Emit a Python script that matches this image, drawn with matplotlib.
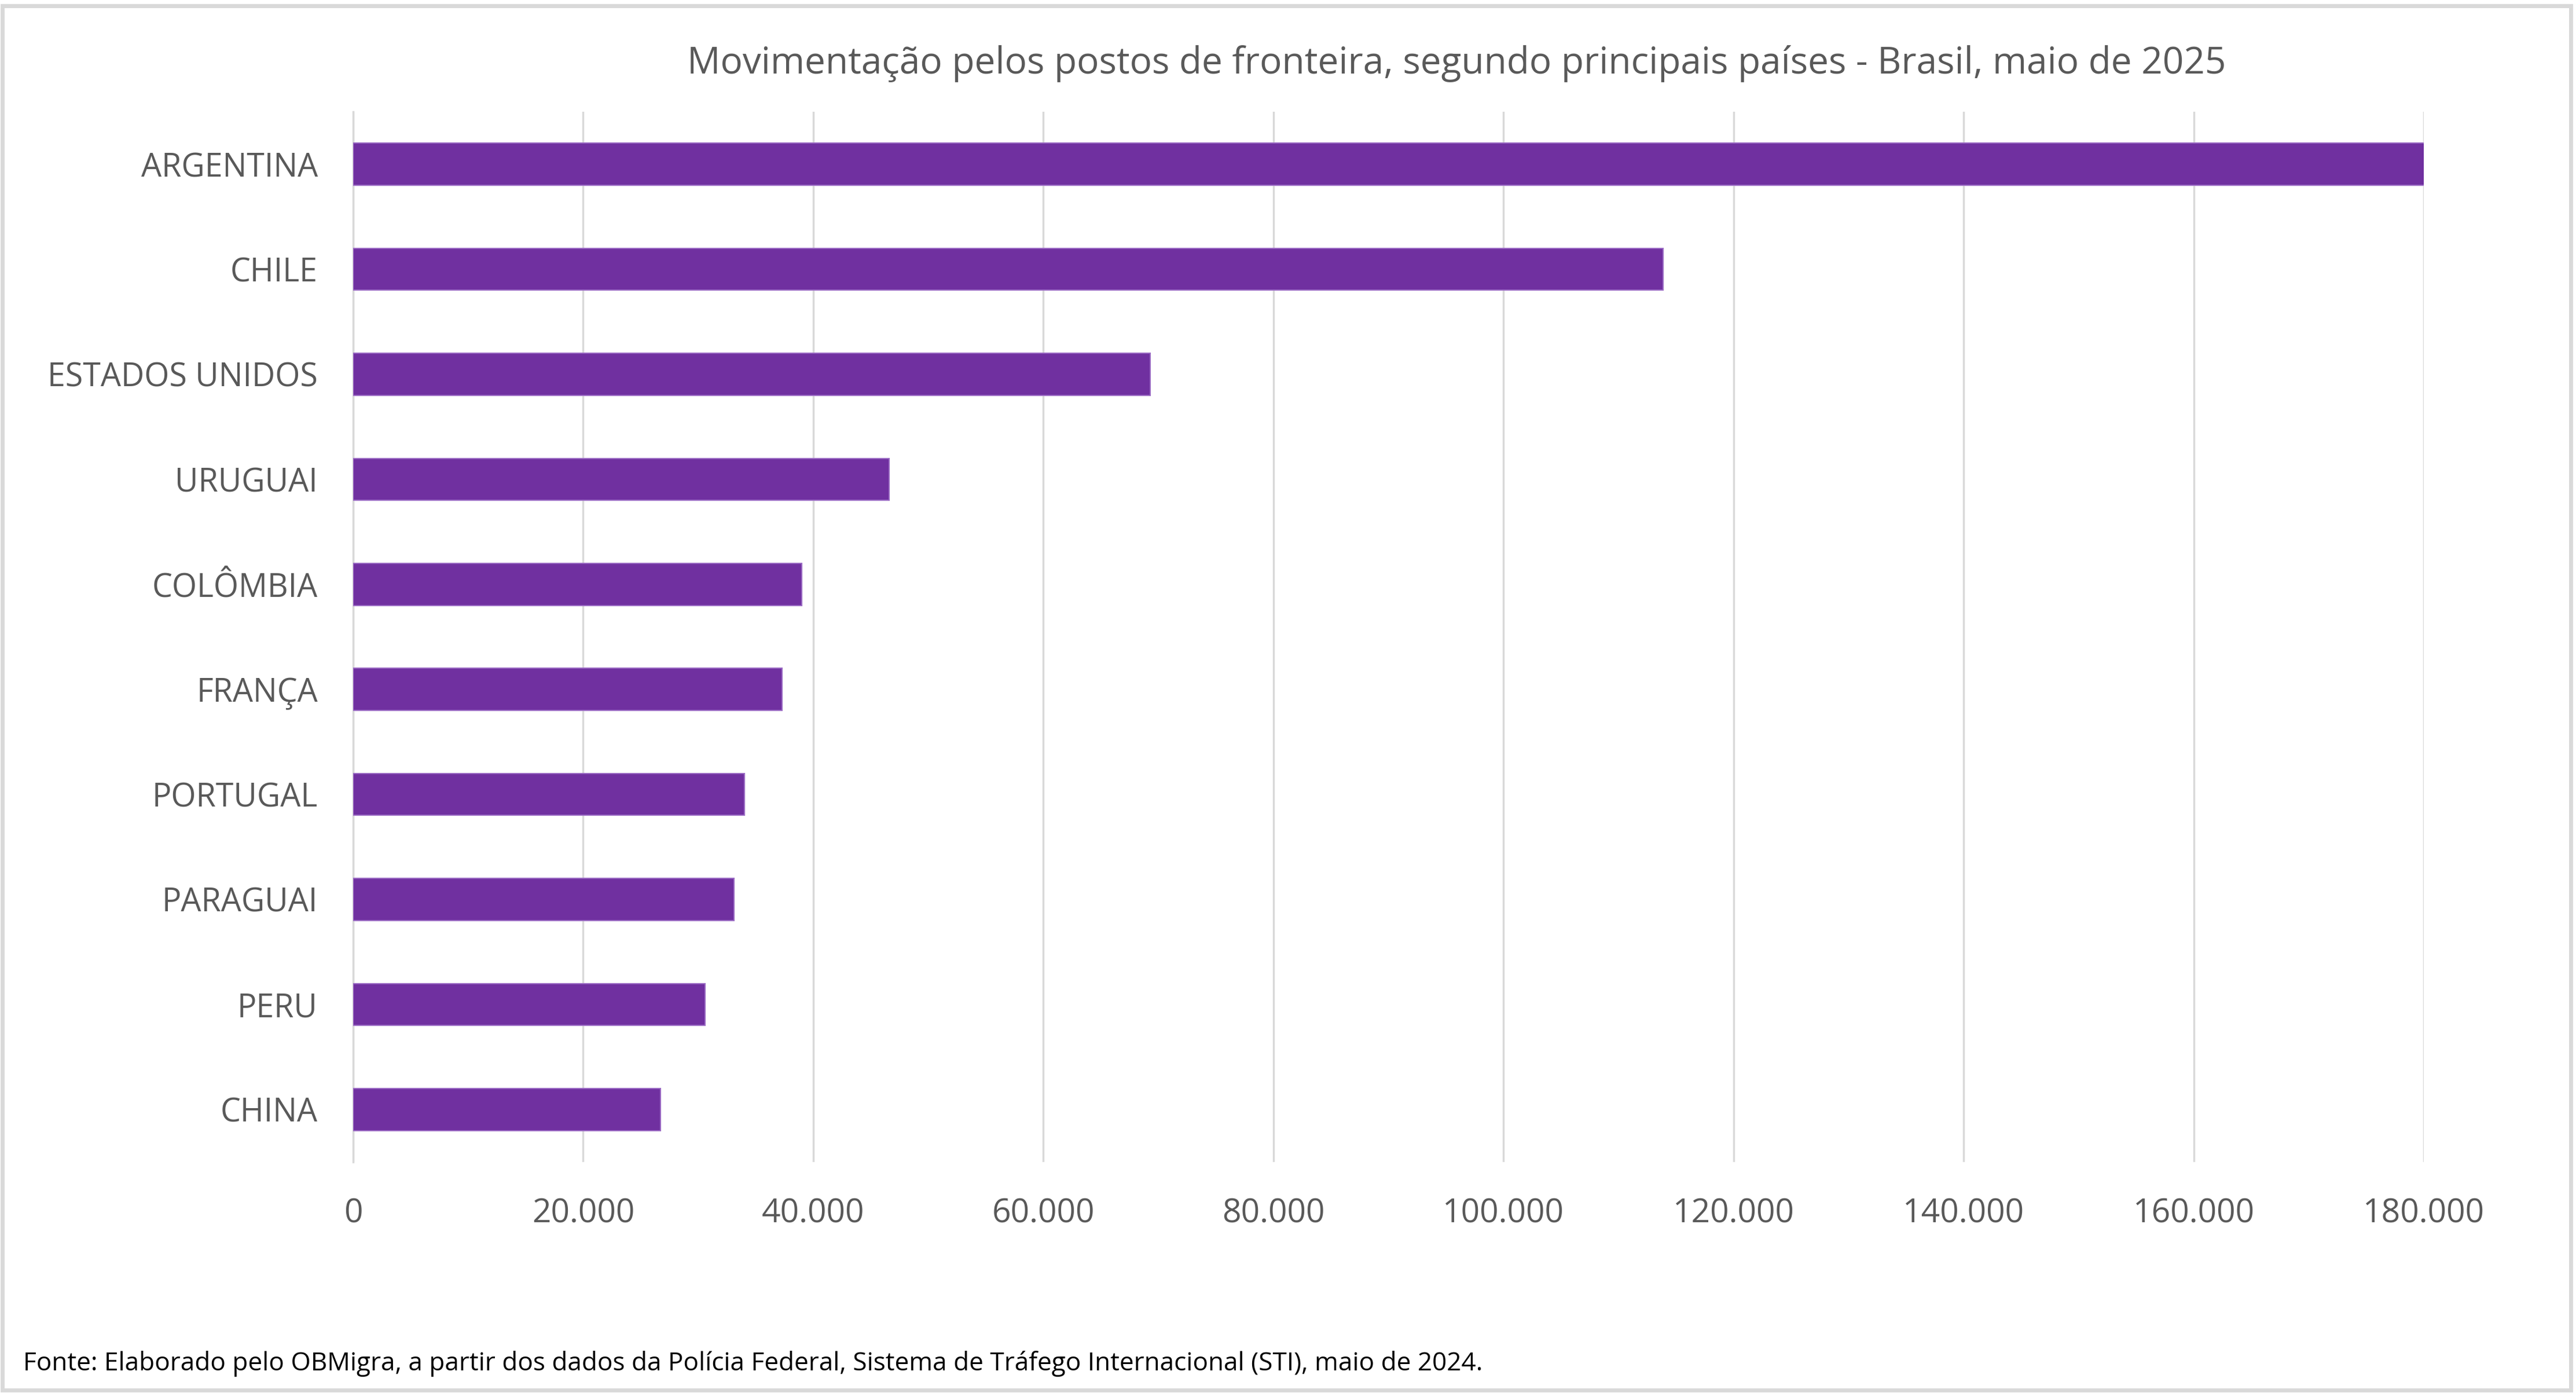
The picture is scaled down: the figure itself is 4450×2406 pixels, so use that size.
import numpy as np
import matplotlib
matplotlib.use("Agg")
import matplotlib.pyplot as plt
from matplotlib.patches import Rectangle
from matplotlib.ticker import FuncFormatter

paises = ["ARGENTINA", "CHILE", "ESTADOS UNIDOS", "URUGUAI", "COLÔMBIA",
          "FRANÇA", "PORTUGAL", "PARAGUAI", "PERU", "CHINA"]
movimentacao = [180200, 113900, 69300, 46600, 39000,
                37300, 34000, 33100, 30600, 26700]
x_ticks = [0, 20000, 40000, 60000, 80000, 100000, 120000, 140000, 160000, 180000]

titulo = "Movimentação pelos postos de fronteira, segundo principais países - Brasil, maio de 2025"
fonte = ("Fonte: Elaborado pelo OBMigra, a partir dos dados da Polícia Federal, "
         "Sistema de Tráfego Internacional (STI), maio de 2024.")

plt.rcParams["font.family"] = ["Open Sans", "DejaVu Sans"]
cinza = "#595959"

fig = plt.figure(figsize=(44.5, 24.06), dpi=100)
ax = fig.add_axes([610 / 4450, 1 - 2007 / 2406, (4187 - 610) / 4450, (2007 - 193) / 2406])

y = np.arange(len(paises))
ax.barh(y, movimentacao, height=0.4, color="#7030A0", edgecolor="#9B6BC4", linewidth=1.5, zorder=3)
ax.set_yticks(y)
ax.set_yticklabels(paises)
ax.set_ylim(len(paises) - 0.5, -0.5)

ax.set_xlim(0, 180000)
ax.set_xticks(x_ticks)
ax.xaxis.set_major_formatter(FuncFormatter(lambda v, p: f"{int(v):,}".replace(",", ".")))
ax.grid(axis="x", color="#D9D9D9", linewidth=2.5, zorder=0)

for s in ["top", "right", "bottom"]:
    ax.spines[s].set_visible(False)
ax.spines["left"].set_color("#D9D9D9")
ax.spines["left"].set_linewidth(2.5)
ax.tick_params(axis="x", length=0, labelsize=41, colors=cinza, pad=44)
ax.tick_params(axis="y", length=0, labelsize=40, colors=cinza, pad=44)

fig.text(2516 / 4450, 1 - 110 / 2406, titulo, ha="center", va="center",
         fontsize=46, color=cinza)
fig.text(40 / 4450, 1 - 2356 / 2406, fonte, ha="left", va="center",
         fontsize=31.8, color="black")

fig.patches.append(Rectangle((0.001, 0.002), 0.997, 0.994, transform=fig.transFigure,
                             fill=False, edgecolor="#D9D9D9", linewidth=5))

fig.savefig("out.png", dpi=100, facecolor="white")
